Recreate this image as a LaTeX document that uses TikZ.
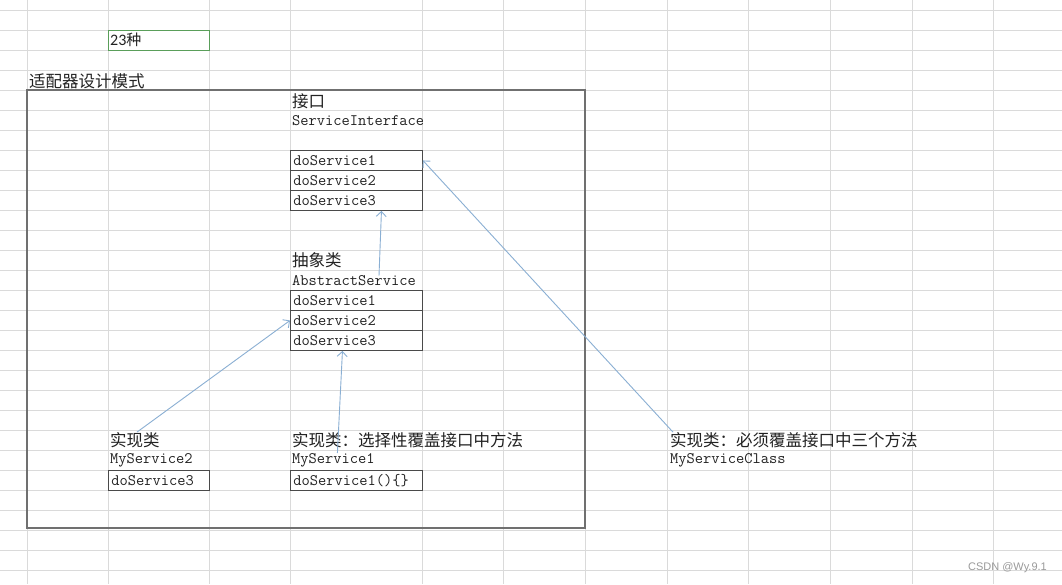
\documentclass[tikz,border=0pt]{standalone}
\usepackage{fontspec}
\newfontfamily\cjk{Noto Sans CJK SC}
\newfontfamily\carl{Carlito}
\newfontfamily\wmfont{Liberation Sans}
\usetikzlibrary{arrows.meta}
\definecolor{gridc}{HTML}{DADADA}
\definecolor{boxc}{HTML}{4A4A4A}
\definecolor{framec}{HTML}{707070}
\definecolor{arrc}{HTML}{8AAFD3}
\definecolor{txt}{HTML}{222222}
\definecolor{cellg}{HTML}{5A9E5A}
\definecolor{wm}{HTML}{9A9A9A}
\tikzset{
  gridline/.style={draw=gridc, line width=0.7pt},
  lat/.style={font=\fontsize{16}{18}\selectfont\ttfamily, anchor=west, inner sep=0pt, text=txt},
  zh/.style={font=\fontsize{16.5}{18}\selectfont\cjk, anchor=west, inner sep=0pt, text=txt},
  method/.style={draw=boxc, line width=0.9pt, font=\fontsize{16}{18}\selectfont\ttfamily, text=txt,
    text width=#1, inner xsep=3pt, inner ysep=0pt, minimum height=20pt, align=left, anchor=north west},
  method/.default=126pt,
  arr/.style={draw=arrc, line width=0.9pt, -{Straight Barb[length=5pt,width=10pt]}},
}
\begin{document}
\begin{tikzpicture}[x=1pt,y=-1pt]
\useasboundingbox (0,0) rectangle (1062,584);
\fill[white] (0,0) rectangle (1062,584);
% spreadsheet grid
\foreach \gx in {27,108,209,290,422,503,585,667,748,830,912,993}
  \draw[gridline] (\gx,0) -- (\gx,584);
\foreach \gy in {10,30,...,570}
  \draw[gridline] (0,\gy) -- (1062,\gy);

% cell 23种
\node[draw=cellg, line width=1.2pt, minimum width=101pt, minimum height=20pt, anchor=north west, inner sep=0pt] (cell) at (108,30) {};
\node[anchor=west, inner sep=0pt, text=txt] (cnt) at (110,40) {\fontsize{16}{18}\selectfont\carl 23\cjk\fontsize{15}{18}\selectfont 种};

% title and frame
\node[zh] (title) at (29,81) {适配器设计模式};
\draw[draw=framec, line width=1.1pt] (27,90) rectangle (585,528);

% interface
\node[zh] (ifLbl) at (292,101) {接口};
\node[lat] (ifName) at (292,121) {ServiceInterface};
\node[method] (if1) at (290,150) {doService1};
\node[method] (if2) at (290,170) {doService2};
\node[method] (if3) at (290,190) {doService3};

% abstract class
\node[zh] (abLbl) at (292,260) {抽象类};
\node[lat] (abName) at (292,281) {AbstractService};
\node[method] (ab1) at (290,290) {doService1};
\node[method] (ab2) at (290,310) {doService2};
\node[method] (ab3) at (290,330) {doService3};

% MyService2
\node[zh] (m2Lbl) at (110,440) {实现类};
\node[lat] (m2Name) at (110,460) {MyService2};
\node[method=95pt] (m2a) at (108,470) {doService3};

% MyService1
\node[zh] (m1Lbl) at (292,440) {实现类：选择性覆盖接口中方法};
\node[lat] (m1Name) at (292,460) {MyService1};
\node[method] (m1a) at (290,470) {doService1()\{\}};

% MyServiceClass
\node[zh] (mcLbl) at (670,440) {实现类：必须覆盖接口中三个方法};
\node[lat] (mcName) at (670,460) {MyServiceClass};

% connectors
\draw[arr] ([xshift=25pt]abName.north) -- ([xshift=25pt]if3.south);
\draw[arr] ([xshift=2pt]m2Lbl.north) -- (ab2.west);
\draw[arr] ([xshift=4pt]m1Name.north) -- ([xshift=-14pt]ab3.south);
\draw[arr] ([xshift=3pt]mcLbl.north west) -- (if1.east);

% watermark
\node[anchor=east, inner sep=0pt, text=wm, font=\fontsize{11}{13}\selectfont\wmfont] (wmk) at (1047,568) {CSDN @Wy.9.1};
\end{tikzpicture}
\end{document}
